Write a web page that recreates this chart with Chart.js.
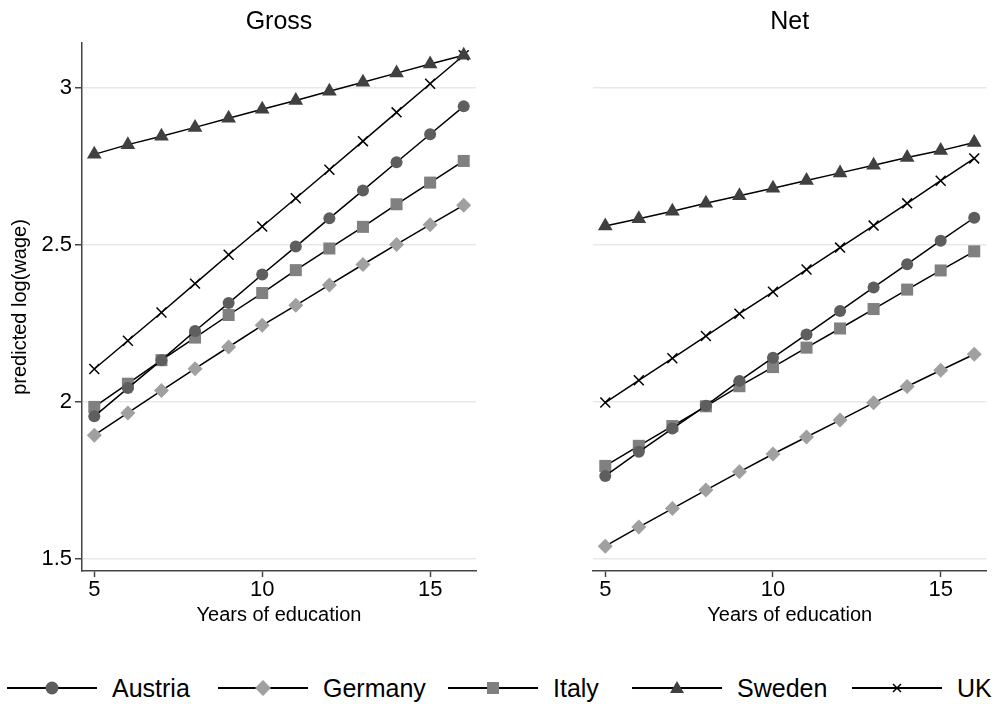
<!DOCTYPE html>
<html>
<head>
<meta charset="utf-8">
<script src="https://cdn.jsdelivr.net/npm/chart.js@4.4.1/dist/chart.umd.min.js"></script>
<style>
  body{margin:0;background:#fff;font-family:"Liberation Sans",Arial,sans-serif;}
  #wrap{position:relative;width:995px;height:704px;overflow:hidden;}
  canvas{position:absolute;top:0;}
  #gross{left:0;} #net{left:500px;}
  .leg{position:absolute;top:668px;height:40px;display:flex;align-items:center;font-size:25px;color:#000;}
  .leg svg{margin-right:15px;}
</style>
</head>
<body>
<div id="wrap">
  <canvas id="gross" width="490" height="640"></canvas>
  <canvas id="net" width="495" height="640"></canvas>
  <div id="legend"></div>
</div>
<script>
// ===== data =====
const years = [5, 6, 7, 8, 9, 10, 11, 12, 13, 14, 15, 16];
const countries = ['Austria', 'Germany', 'Italy', 'Sweden', 'UK'];
const xTicks = [5, 10, 15];
const yTicks = [1.5, 2, 2.5, 3];

const grossAustria = [1.953, 2.043, 2.132, 2.225, 2.314, 2.405, 2.494, 2.584, 2.673, 2.763, 2.852, 2.941];
const grossGermany = [1.893, 1.964, 2.035, 2.105, 2.174, 2.243, 2.307, 2.372, 2.437, 2.501, 2.564, 2.626];
const grossItaly   = [1.983, 2.057, 2.132, 2.204, 2.276, 2.346, 2.419, 2.488, 2.557, 2.629, 2.698, 2.767];
const grossSweden  = [2.788, 2.819, 2.846, 2.874, 2.903, 2.932, 2.960, 2.989, 3.018, 3.047, 3.076, 3.104];
const grossUK      = [2.104, 2.194, 2.284, 2.376, 2.468, 2.558, 2.648, 2.739, 2.830, 2.922, 3.013, 3.104];

const netAustria = [1.763, 1.840, 1.914, 1.987, 2.066, 2.140, 2.214, 2.289, 2.364, 2.438, 2.513, 2.586];
const netGermany = [1.539, 1.600, 1.659, 1.718, 1.776, 1.833, 1.887, 1.941, 1.996, 2.048, 2.100, 2.151];
const netItaly   = [1.795, 1.859, 1.922, 1.985, 2.049, 2.110, 2.172, 2.233, 2.295, 2.357, 2.418, 2.479];
const netSweden  = [2.560, 2.583, 2.607, 2.632, 2.656, 2.680, 2.705, 2.729, 2.753, 2.778, 2.800, 2.826];
const netUK      = [1.997, 2.068, 2.138, 2.209, 2.280, 2.350, 2.421, 2.491, 2.561, 2.632, 2.704, 2.775];

// ===== styles =====
const FONT = '"Liberation Sans", Arial, sans-serif';
const AXIS = '#444', GRID = '#e8e8e8';
const marks = {
  Austria: {style:'circle',   radius:6,   color:'#5e5e5e'},
  Germany: {style:'rectRot',  radius:7.5, color:'#a0a0a0'},
  Italy:   {style:'rect',     radius:8.5, color:'#808080'},
  Sweden:  {style:'triangle', radius:8.5, color:'#404040'},
  UK:      {style:'crossRot', radius:7,   color:'#000'}
};

function datasets(series){
  return countries.map((c,i)=>{ const m=marks[c];
    return { label:c, data:years.map((x,j)=>({x, y:series[i][j]})),
      borderColor:'#000', borderWidth:1.5, tension:0,
      pointStyle:m.style, pointRadius:m.radius, pointBackgroundColor:m.color,
      pointBorderColor:m.color, pointBorderWidth:c==='UK'?1.5:0, clip:false };
  });
}

function makeChart(id, title, series, isLeft){
  const rightPad = isLeft ? 14 : 7;
  return new Chart(document.getElementById(id), {
    type:'line',
    data:{ datasets: datasets(series) },
    options:{
      responsive:false, animation:false, devicePixelRatio:1,
      layout:{ padding:{ left:0, right:rightPad, top:0, bottom:0 } },
      plugins:{
        legend:{display:false}, tooltip:{enabled:false},
        title:{ display:true, text:title, fullSize:false, color:'#000',
                font:{family:FONT, size:25, weight:'normal'}, padding:{top:7, bottom:6} }
      },
      scales:{
        x:{ type:'linear', min:4.634, max:16.366,
            afterBuildTicks:s=>{ s.ticks = xTicks.map(v=>({value:v})); },
            afterFit:s=>{ s.height = 69; },
            grid:{ drawOnChartArea:false, drawTicks:true, tickLength:6, tickColor:AXIS, tickWidth:1.5 },
            border:{ display:true, color:AXIS, width:1.5 },
            ticks:{ color:'#000', padding:0, font:{family:FONT, size:22} },
            title:{ display:true, text:'Years of education', color:'#000',
                    font:{family:FONT, size:20}, padding:{top:0, bottom:13} } },
        y:{ type:'linear', min:1.46, max:3.143,
            afterBuildTicks:s=>{ s.ticks = yTicks.map(v=>({value:v})); },
            afterFit:s=>{ s.width = isLeft ? 82 : 93; },
            grid:{ color:GRID, lineWidth:1.5, drawTicks:isLeft, tickLength:7, tickColor:AXIS, tickWidth:1.5 },
            border:{ display:isLeft, color:AXIS, width:1.5 },
            ticks:{ display:isLeft, color:'#000', padding:3, font:{family:FONT, size:22},
                    callback:v=>String(v) },
            title:{ display:isLeft, text:'predicted log(wage)', color:'#000',
                    font:{family:FONT, size:20}, padding:{top:8, bottom:0} } }
      }
    }
  });
}

makeChart('gross', 'Gross', [grossAustria, grossGermany, grossItaly, grossSweden, grossUK], true);
makeChart('net', 'Net', [netAustria, netGermany, netItaly, netSweden, netUK], false);

// ===== legend =====
const legendX = [7, 218, 448, 632, 852];
function markerSvg(c){ const m=marks[c]; let shape='';
  if(m.style==='circle') shape=`<circle cx="45" cy="12" r="6.5" fill="${m.color}"/>`;
  if(m.style==='rectRot') shape=`<polygon points="45,4 53,12 45,20 37,12" fill="${m.color}"/>`;
  if(m.style==='rect') shape=`<rect x="39" y="6" width="12" height="12" fill="${m.color}"/>`;
  if(m.style==='triangle') shape=`<polygon points="45,5 52,17 38,17" fill="${m.color}"/>`;
  if(m.style==='crossRot') shape=`<path d="M41 8 L49 16 M49 8 L41 16" stroke="#000" stroke-width="1.5"/>`;
  return `<svg width="90" height="24"><line x1="0" y1="12" x2="90" y2="12" stroke="#000" stroke-width="2"/>${shape}</svg>`;
}
document.getElementById('legend').innerHTML = countries.map((c,i)=>
  `<div class="leg" style="left:${legendX[i]}px">${markerSvg(c)}<span>${c}</span></div>`).join('');
</script>
</body>
</html>
